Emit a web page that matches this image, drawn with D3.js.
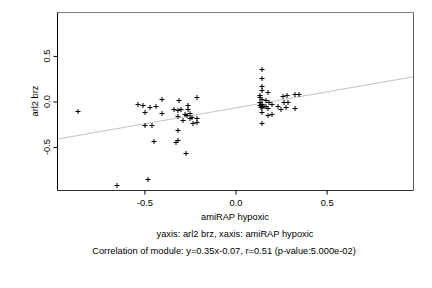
<!DOCTYPE html>
<html>
<head>
<meta charset="utf-8">
<script src="https://cdn.jsdelivr.net/npm/d3@7"></script>
<style>
  body { margin: 0; background: #fff; }
  text { font-family: "Liberation Sans", Arial, sans-serif; fill: #000; }
</style>
</head>
<body>
<div id="chart"></div>
<script>
// values
var xVals = [-0.867, -0.648, -0.534, -0.505, -0.499, -0.467, -0.434, -0.404, -0.404, -0.494,
  -0.460, -0.449, -0.482, -0.340, -0.312, -0.318, -0.300, -0.318, -0.290, -0.262,
  -0.262, -0.276, -0.265, -0.247, -0.252, -0.241, -0.213, -0.213, -0.231, -0.213,
  -0.318, -0.329, -0.318, -0.269,
  0.143, 0.148, 0.148, 0.148, 0.181, 0.137, 0.134, 0.143, 0.165, 0.184,
  0.137, 0.148, 0.132, 0.143, 0.154, 0.140, 0.148, 0.170, 0.181, 0.203,
  0.148, 0.181, 0.203, 0.231, 0.247, 0.262, 0.281, 0.265, 0.290, 0.276,
  0.328, 0.347, 0.328, 0.143];
var yVals = [-0.107, -0.913, -0.030, -0.041, -0.110, -0.063, -0.052, 0.022, -0.121, -0.261,
  -0.253, -0.429, -0.847, -0.077, 0.011, -0.096, -0.077, -0.154, -0.198, -0.033,
  -0.077, -0.132, -0.143, -0.121, -0.176, -0.165, 0.047, -0.176, -0.231, -0.220,
  -0.308, -0.440, -0.418, -0.561,
  0.353, 0.254, 0.166, 0.124, 0.102, 0.075, 0.044, 0.029, 0.012, -0.006,
  0.000, -0.022, -0.033, -0.044, -0.044, -0.055, -0.059, -0.046, -0.066, -0.032,
  -0.120, -0.147, -0.136, -0.054, -0.085, 0.058, 0.067, -0.008, -0.004, -0.065,
  0.080, 0.080, -0.074, -0.239];
var ticks = [-0.5, 0, 0.5];
var tickLabels = ["-0.5", "0.0", "0.5"];
var slope = 0.35, intercept = -0.07;
var xName = "amiRAP hypoxic", yName = "arl2 brz";
var subTitle = "yaxis: arl2 brz, xaxis: amiRAP hypoxic";
var corrText = "Correlation of module: y=0.35x-0.07, r=0.51 (p-value:5.000e-02)";

var width = 432, height = 288,
    pLeft = 57.5, pRight = 413.5, pTop = 12.5, pBottom = 190.5,
    lim = 0.977,
    fs = "9.3px";

var data = xVals.map(function(v, i){ return {x: v, y: yVals[i]}; });

var x = d3.scaleLinear().domain([-lim, lim]).range([pLeft, pRight]);
var y = d3.scaleLinear().domain([-lim, lim]).range([pBottom, pTop]);

var svg = d3.select("#chart").append("svg")
  .attr("width", width)
  .attr("height", height);

// regression line
svg.append("line")
  .attr("x1", x(-lim)).attr("y1", y(slope * -lim + intercept))
  .attr("x2", x(lim)).attr("y2", y(slope * lim + intercept))
  .style("stroke", "#c4c4c4")
  .style("stroke-width", 1);

// points as "+"
var pts = svg.append("g").selectAll("g")
  .data(data)
  .enter()
  .append("g")
  .attr("transform", function(d){ return "translate(" + Math.round(x(d.x)) + "," + Math.round(y(d.y)) + ")"; });
pts.append("line").attr("x1", -2.5).attr("x2", 2.5).attr("y1", 0.5).attr("y2", 0.5)
  .style("stroke", "#000").style("stroke-width", 1);
pts.append("line").attr("x1", 0).attr("x2", 0).attr("y1", -2).attr("y2", 3)
  .style("stroke", "#000").style("stroke-width", 1);

// box
svg.append("line").attr("x1", pLeft).attr("x2", pRight).attr("y1", pTop).attr("y2", pTop).style("stroke", "#808080");
svg.append("line").attr("x1", pRight).attr("x2", pRight).attr("y1", pTop).attr("y2", pBottom).style("stroke", "#606060");
svg.append("line").attr("x1", pLeft).attr("x2", pRight).attr("y1", pBottom).attr("y2", pBottom).style("stroke", "#303030");
svg.append("line").attr("x1", pLeft).attr("x2", pLeft).attr("y1", pTop).attr("y2", pBottom).style("stroke", "#000");

// x axis
var xAxis = d3.axisBottom(x).tickValues(ticks).tickSize(4).tickPadding(5)
  .tickFormat(function(d, i){ return tickLabels[i]; });
var gx = svg.append("g").attr("transform", "translate(0," + pBottom + ")").call(xAxis);
gx.select(".domain").remove();
gx.selectAll("text").style("font-size", fs).style("font-family", "Liberation Sans, Arial, sans-serif");

// y axis, labels turned like R
var yAxis = d3.axisLeft(y).tickValues(ticks).tickSize(4).tickFormat("");
var gy = svg.append("g").attr("transform", "translate(" + pLeft + ",0)").call(yAxis);
gy.select(".domain").remove();
svg.selectAll(".ylab")
  .data(ticks)
  .enter()
  .append("text")
  .attr("class", "ylab")
  .attr("transform", function(d){ return "translate(50," + y(d) + ") rotate(-90)"; })
  .attr("text-anchor", "middle")
  .style("font-size", fs)
  .text(function(d, i){ return tickLabels[i]; });

svg.append("text")
  .attr("transform", "translate(38,101) rotate(-90)")
  .attr("text-anchor", "middle")
  .style("font-size", fs)
  .text(yName);

svg.append("text").attr("x", 235).attr("y", 219.5).attr("text-anchor", "middle")
  .style("font-size", fs).text(xName);
svg.append("text").attr("x", 235).attr("y", 236.5).attr("text-anchor", "middle")
  .style("font-size", fs).text(subTitle);
svg.append("text").attr("x", 224).attr("y", 253.5).attr("text-anchor", "middle")
  .style("font-size", fs).text(corrText);
</script>
</body>
</html>
